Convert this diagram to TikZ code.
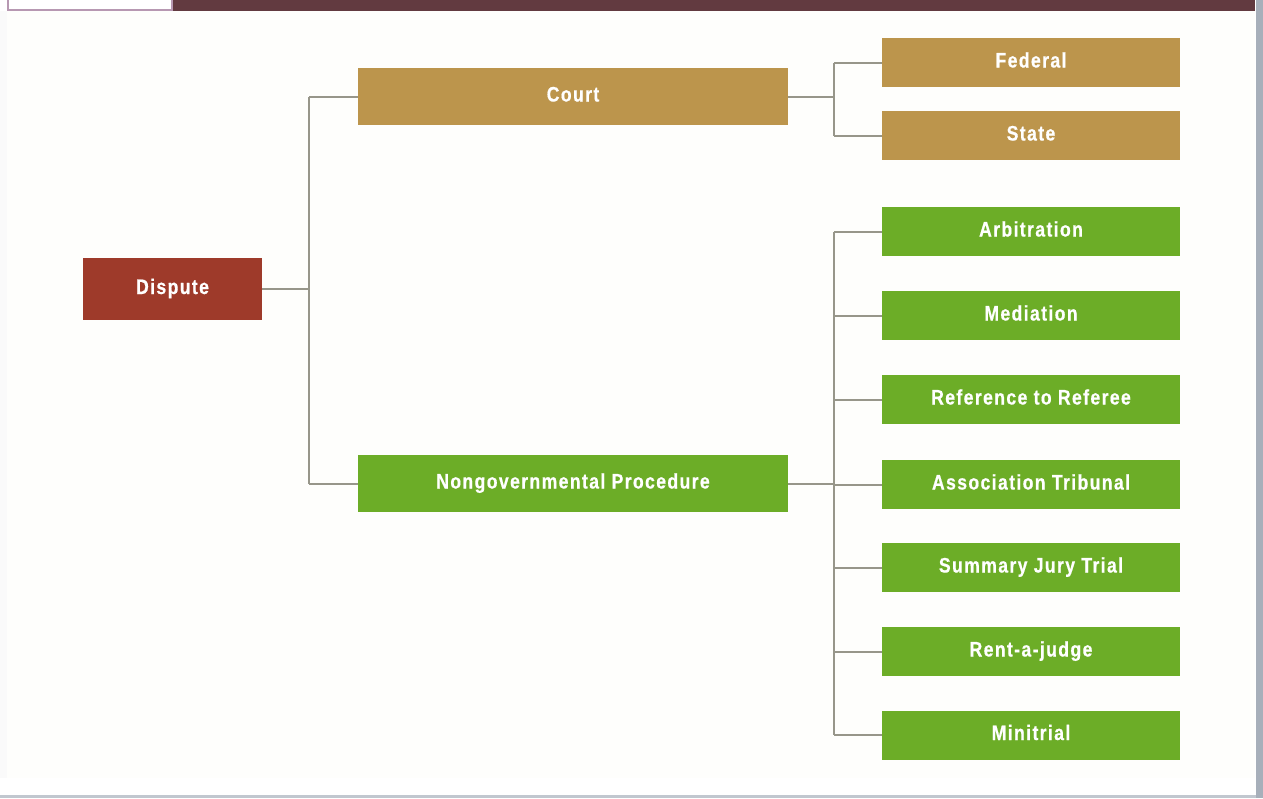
\documentclass[tikz,border=0pt]{standalone}
\usepackage{fontspec}
\setmainfont{Liberation Sans}[FakeStretch=0.84,LetterSpace=6.5,BoldFeatures={FakeBold=0.6}]
\definecolor{barmaroon}{HTML}{623A40}
\definecolor{tabmauve}{HTML}{B798B2}
\definecolor{courtgold}{HTML}{BC954C}
\definecolor{procgreen}{HTML}{6CAD27}
\definecolor{disputered}{HTML}{9E3A2A}
\definecolor{linkgray}{HTML}{97968A}
\definecolor{paper}{HTML}{FEFEFC}
\definecolor{edgegray}{HTML}{A7AFBA}
\tikzset{
  boxbase/.style={rectangle, inner sep=0pt, text=white,
    font=\fontsize{21}{25}\selectfont\bfseries,
    text height=14pt, text depth=4pt},
  rootbox/.style={boxbase, fill=disputered, minimum width=179pt, minimum height=62pt},
  midbox/.style={boxbase, minimum width=430pt, minimum height=57pt},
  leafbox/.style={boxbase, minimum width=298pt, minimum height=49pt},
  link/.style={draw=linkgray, line width=2pt}
}
\begin{document}
\begin{tikzpicture}[x=1pt,y=-1pt]
\useasboundingbox (0,0) rectangle (1263,798);
% page background and frame
\fill[white] (0,0) rectangle (1263,798);
\fill[paper] (7,11) rectangle (1255,778);
\fill[black!2] (0,11) rectangle (7,778);
\fill[edgegray] (1256,0) rectangle (1263,798);
\fill[edgegray!70] (0,795) rectangle (1256,798);
% header strip
\fill[barmaroon] (173,0) rectangle (1255,11);
\fill[tabmauve] (7,0) rectangle (173,11);
\fill[white] (9,0) rectangle (171,9);

% nodes
\node[rootbox] (dispute) at (172.5,289) {Dispute};
\node[midbox, fill=courtgold] (court) at (573,96.5) {Court};
\node[midbox, fill=procgreen] (nongov) at (573,483.5) {Nongovernmental Procedure};

\node[leafbox, fill=courtgold] (federal) at (1031,62.5) {Federal};
\node[leafbox, fill=courtgold] (state) at (1031,135.5) {State};

\node[leafbox, fill=procgreen] (arb) at (1031,231.5) {Arbitration};
\node[leafbox, fill=procgreen] (med) at (1031,315.5) {Mediation};
\node[leafbox, fill=procgreen] (ref) at (1031,399.5) {Reference to Referee};
\node[leafbox, fill=procgreen] (assoc) at (1031,484.5) {Association Tribunal};
\node[leafbox, fill=procgreen] (jury) at (1031,567.5) {Summary Jury Trial};
\node[leafbox, fill=procgreen] (rent) at (1031,651.5) {Rent-a-judge};
\node[leafbox, fill=procgreen] (mini) at (1031,735) {Minitrial};

% junction columns
\coordinate (j1) at (309,289);
\coordinate (j2) at (834,0);

% dispute to court / nongovernmental
\draw[link] (dispute.east) -- (j1);
\draw[link] (court.west -| j1) -- (nongov.west -| j1);
\draw[link] (court.west -| j1) -- (court.west);
\draw[link] (nongov.west -| j1) -- (nongov.west);

% court branches
\draw[link] (court.east) -- (court.east -| j2);
\draw[link] (federal.west -| j2) -- (state.west -| j2);
\draw[link] (federal.west -| j2) -- (federal.west);
\draw[link] (state.west -| j2) -- (state.west);

% nongovernmental branches
\draw[link] (nongov.east) -- (nongov.east -| j2);
\draw[link] (arb.west -| j2) -- (mini.west -| j2);
\foreach \n in {arb,med,ref,assoc,jury,rent,mini}
  \draw[link] (\n.west -| j2) -- (\n.west);
\end{tikzpicture}
\end{document}
